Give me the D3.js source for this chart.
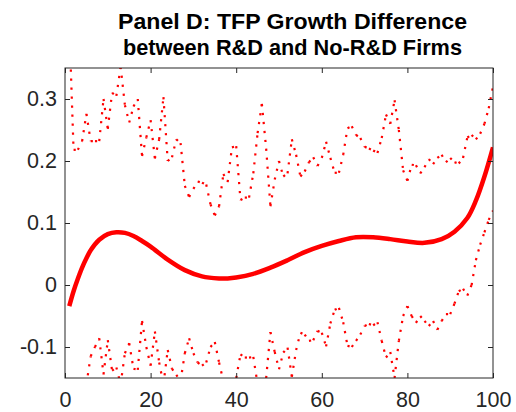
<!DOCTYPE html>
<html>
<head>
<meta charset="utf-8">
<script src="https://cdn.jsdelivr.net/npm/d3@7"></script>
<style>
  html, body { margin: 0; padding: 0; background: #fff; }
  svg { display: block; }
  text { font-family: "Liberation Sans", Arial, Helvetica, sans-serif; }
</style>
</head>
<body>
<svg id="chart" width="516" height="412"></svg>
<script>
// Percentile positions of the estimates
const pct = d3.range(1, 101);

// Upper confidence band
const upperBand = [
  0.420, 0.218, 0.218, 0.232, 0.276, 0.232, 0.232, 0.232, 0.300, 0.252,
  0.310, 0.305, 0.352, 0.290, 0.262, 0.288, 0.300, 0.208, 0.238, 0.266,
  0.204, 0.235, 0.303, 0.200, 0.206, 0.235, 0.229, 0.160, 0.142, 0.155,
  0.167, 0.165, 0.162, 0.130, 0.112, 0.127, 0.179, 0.166, 0.222, 0.224,
  0.137, 0.141, 0.141, 0.180, 0.245, 0.292, 0.220, 0.127, 0.170, 0.200,
  0.175, 0.180, 0.235, 0.210, 0.175, 0.183, 0.198, 0.206, 0.192, 0.205,
  0.231, 0.205, 0.181, 0.181, 0.210, 0.253, 0.256, 0.242, 0.237, 0.223,
  0.220, 0.217, 0.213, 0.237, 0.275, 0.260, 0.298, 0.250, 0.185, 0.168,
  0.194, 0.193, 0.180, 0.190, 0.203, 0.195, 0.205, 0.210, 0.198, 0.205,
  0.198, 0.196, 0.205, 0.238, 0.242, 0.235, 0.244, 0.260, 0.285, 0.320
];

// Lower confidence band
const lowerBand = [
  -0.250, -0.220, -0.190, -0.170, -0.160, -0.115, -0.100, -0.086, -0.144, -0.089,
  -0.138, -0.133, -0.160, -0.110, -0.094, -0.135, -0.137, -0.058, -0.100, -0.130,
  -0.075, -0.125, -0.160, -0.105, -0.135, -0.145, -0.155, -0.110, -0.086, -0.110,
  -0.125, -0.130, -0.125, -0.100, -0.092, -0.125, -0.155, -0.160, -0.155, -0.150,
  -0.112, -0.117, -0.117, -0.116, -0.160, -0.160, -0.150, -0.076, -0.108, -0.136,
  -0.109, -0.101, -0.148, -0.105, -0.077, -0.080, -0.090, -0.089, -0.074, -0.077,
  -0.099, -0.062, -0.040, -0.037, -0.060, -0.098, -0.100, -0.090, -0.080, -0.066,
  -0.063, -0.065, -0.060, -0.090, -0.117, -0.108, -0.150, -0.090, -0.050, -0.034,
  -0.050, -0.061, -0.050, -0.058, -0.066, -0.058, -0.072, -0.058, -0.047, -0.047,
  -0.030, -0.010, -0.006, -0.017, 0.000, 0.040, 0.065, 0.085, 0.105, 0.120
];

// Smoothed difference (fitted curve)
const fitX = [1, 2, 3, 4, 5, 6, 8, 10, 12, 14, 16, 18, 20, 24, 28, 32, 36, 38, 40, 44,
              48, 52, 56, 60, 64, 68, 72, 76, 80, 84, 88, 91, 94, 96, 98, 100];
const fitY = [-0.034, -0.010, 0.010, 0.028, 0.043, 0.056, 0.073, 0.082, 0.085, 0.084,
              0.079, 0.071, 0.062, 0.041, 0.024, 0.014, 0.0105, 0.0105, 0.012, 0.018,
              0.028, 0.040, 0.053, 0.063, 0.071, 0.077, 0.077, 0.074, 0.070, 0.068,
              0.074, 0.086, 0.108, 0.136, 0.175, 0.222];

// Axis ticks
const xTicks = [0, 20, 40, 60, 80, 100];
const xTickLabels = ["0", "20", "40", "60", "80", "100"];
const yTicks = [-0.1, 0, 0.1, 0.2, 0.3];
const yTickLabels = ["-0.1", "0", "0.1", "0.2", "0.3"];

const titleLines = ["Panel D: TFP Growth Difference", "between R&D and No-R&D Firms"];
const titleWidths = [349, 339];

(function draw() {
  const svg = d3.select("#chart");
  const plotL = 65, plotR = 493, plotT = 68, plotB = 378;

  const x = d3.scaleLinear().domain([0, 100]).range([plotL, plotR]);
  const y = d3.scaleLinear().domain([-0.15, 0.35]).range([plotB, plotT]);

  svg.append("defs").append("clipPath").attr("id", "plotArea")
    .append("rect").attr("x", plotL).attr("y", plotT)
    .attr("width", plotR - plotL).attr("height", plotB - plotT);

  const plot = svg.append("g").attr("clip-path", "url(#plotArea)");

  // Dotted bands: each segment restarts its dot pattern at the data vertex
  function drawBand(values) {
    const pts = pct.map((p, i) => [p, values[i]]);
    plot.append("g").selectAll("line")
      .data(d3.pairs(pts))
      .join("line")
      .attr("x1", d => x(d[0][0])).attr("y1", d => y(d[0][1]))
      .attr("x2", d => x(d[1][0])).attr("y2", d => y(d[1][1]))
      .attr("stroke", "#ff0000")
      .attr("stroke-width", 2.2)
      .attr("stroke-dasharray", "2.2,6.8");
  }
  drawBand(upperBand);
  drawBand(lowerBand);

  // Fitted curve
  const line = d3.line().x(d => x(d[0])).y(d => y(d[1])).curve(d3.curveCatmullRom.alpha(0.5));
  plot.append("path")
    .datum(fitX.map((v, i) => [v, fitY[i]]))
    .attr("d", line)
    .attr("fill", "none")
    .attr("stroke", "#ff0000")
    .attr("stroke-width", 4.5)
    .attr("stroke-linejoin", "round");

  // Axes box and inward ticks
  const axisColor = "#262626";
  const tickLen = 5;

  const gBottom = svg.append("g").attr("transform", `translate(0,${plotB})`)
    .call(d3.axisBottom(x).tickValues(xTicks).tickSizeInner(-tickLen).tickSizeOuter(0)
      .tickFormat((d, i) => xTickLabels[i]));
  const gTop = svg.append("g").attr("transform", `translate(0,${plotT})`)
    .call(d3.axisTop(x).tickValues(xTicks).tickSizeInner(-tickLen).tickSizeOuter(0).tickFormat(""));
  const gLeft = svg.append("g").attr("transform", `translate(${plotL},0)`)
    .call(d3.axisLeft(y).tickValues(yTicks).tickSizeInner(-tickLen).tickSizeOuter(0)
      .tickPadding(8).tickFormat((d, i) => yTickLabels[i]));
  const gRight = svg.append("g").attr("transform", `translate(${plotR},0)`)
    .call(d3.axisRight(y).tickValues(yTicks).tickSizeInner(-tickLen).tickSizeOuter(0).tickFormat(""));

  [gBottom, gTop, gLeft, gRight].forEach(g => {
    g.select(".domain").remove();
    g.selectAll(".tick line").attr("stroke", axisColor).attr("stroke-width", 1);
    g.selectAll(".tick text").attr("fill", axisColor)
      .style("font-size", "21.5px");
  });
  gBottom.selectAll(".tick text").attr("dy", null).attr("y", 29);
  gLeft.selectAll(".tick text").attr("dy", "0.32em");

  svg.append("rect")
    .attr("x", plotL).attr("y", plotT)
    .attr("width", plotR - plotL).attr("height", plotB - plotT)
    .attr("fill", "none").attr("stroke", axisColor).attr("stroke-width", 1);

  // Title
  svg.append("g").selectAll("text").data(titleLines).join("text")
    .attr("x", 292.5)
    .attr("y", (d, i) => 29 + i * 25.5)
    .attr("text-anchor", "middle")
    .attr("textLength", (d, i) => titleWidths[i])
    .attr("lengthAdjust", "spacingAndGlyphs")
    .style("font-size", "22.5px").style("font-weight", "bold")
    .attr("fill", "#000")
    .text(d => d);
})();
</script>
</body>
</html>
